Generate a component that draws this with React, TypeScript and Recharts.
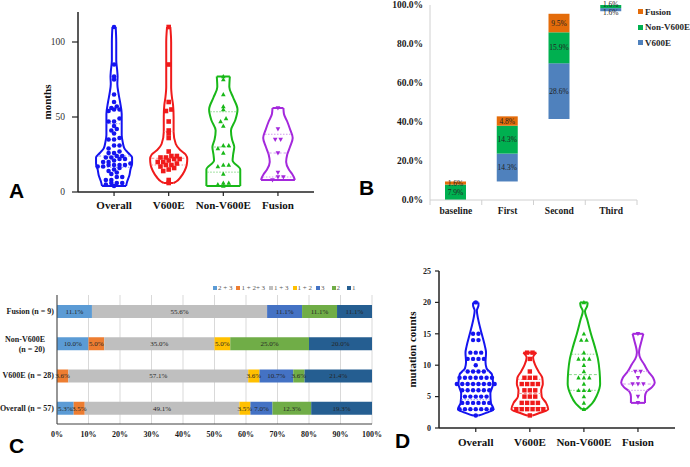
import React from 'react';
import {
  ScatterChart, Scatter, XAxis, YAxis, BarChart, Bar, LabelList, Legend, CartesianGrid,
} from 'recharts';

const SERIF = "'Liberation Serif', 'Times New Roman', serif";
const SANS = "'Liberation Sans', Arial, sans-serif";

// ---- violin groups (panels A and D) ----
const groupNames = ['Overall', 'V600E', 'Non-V600E', 'Fusion'];
const groupColors = ['#1414f0', '#f01b1b', '#18b818', '#a428dc'];
const groupLight = ['#8a8af6', '#f59090', '#86d886', '#d298ee'];

// A: months
const v600eMonths = [110, 85, 60, 55, 54, 47, 41, 39, 36, 27, 24, 24, 23, 23, 22, 22, 21, 20, 20, 19, 18, 18, 17, 16, 15, 14, 8, 6];
const nonV600eMonths = [77, 75, 65, 57, 55, 49, 47, 44, 31, 31, 29, 26, 18, 18, 17, 12, 6, 6, 5, 4];
const fusionMonths = [56, 42, 35, 35, 26, 13, 10, 10, 8];
const overallMonths = [...v600eMonths, ...nonV600eMonths, ...fusionMonths];

// violin outlines: [value, half width in category units]
const overallMonthsShape = [[110, 0.03], [100, 0.04], [88, 0.04], [80, 0.06], [77, 0.065], [72, 0.06], [66, 0.08], [60, 0.11], [52, 0.14], [45, 0.14], [38, 0.14], [33, 0.16], [29, 0.19], [26, 0.26], [23, 0.33], [19, 0.33], [15, 0.3], [11, 0.28], [7, 0.24], [4, 0.22]];
const v600eMonthsShape = [[110, 0.03], [100, 0.045], [85, 0.045], [70, 0.045], [63, 0.06], [58, 0.08], [50, 0.09], [40, 0.09], [32, 0.13], [28, 0.21], [25, 0.31], [22, 0.34], [18, 0.33], [14, 0.29], [10, 0.22], [7, 0.14], [6, 0.09]];
const nonV600eMonthsShape = [[77, 0.12], [70, 0.11], [63, 0.18], [55, 0.26], [48, 0.22], [41, 0.14], [35, 0.16], [30, 0.2], [25, 0.18], [21, 0.17], [15, 0.31], [10, 0.31], [4, 0.31]];
const fusionMonthsShape = [[56, 0.1], [52, 0.11], [47, 0.17], [42, 0.22], [36, 0.27], [30, 0.22], [25, 0.17], [20, 0.15], [15, 0.2], [12, 0.26], [10, 0.29], [8, 0.31]];

// D: mutation counts
const v600eCounts = [12, 12, 11, 9, 8, 8, 8, 7, 7, 7, 7, 6, 6, 6, 5, 5, 5, 4, 4, 4, 4, 3, 3, 3, 3, 3, 3, 2];
const nonV600eCounts = [20, 15, 14, 14, 12, 11, 11, 11, 10, 9, 8, 8, 8, 7, 6, 6, 6, 5, 4, 3];
const fusionCounts = [15, 9, 9, 8, 7, 7, 7, 5, 4];
const overallCounts = [...v600eCounts, ...nonV600eCounts, ...fusionCounts];

const overallCountsShape = [[20, 0.05], [19.5, 0.05], [18.7, 0.02], [17.5, 0.04], [16, 0.08], [15, 0.11], [13, 0.17], [12, 0.19], [10.5, 0.18], [9.5, 0.2], [8.5, 0.3], [7, 0.32], [5.5, 0.27], [4, 0.28], [3, 0.33], [2.5, 0.22], [2, 0.05]];
const v600eCountsShape = [[12, 0.12], [11.2, 0.06], [10, 0.1], [9, 0.16], [8, 0.23], [7, 0.24], [6, 0.21], [5, 0.22], [4, 0.3], [3, 0.34], [2.5, 0.22], [2, 0.05]];
const nonV600eCountsShape = [[20, 0.07], [19.4, 0.06], [18.6, 0.02], [17.3, 0.06], [15, 0.13], [13, 0.2], [11, 0.26], [9, 0.29], [7, 0.3], [5.2, 0.24], [4, 0.16], [3, 0.04]];
const fusionCountsShape = [[15, 0.1], [14, 0.07], [12, 0.02], [11, 0.05], [10.2, 0.11], [9, 0.19], [8, 0.28], [7.2, 0.31], [6.5, 0.26], [5.8, 0.16], [5, 0.13], [4, 0.13]];

// ---- B: cumulative detection by round ----
const stages = ['baseline', 'First', 'Second', 'Third'];
const stageStart = [0, 9.5, 41.5, 96.8];
const stageV600E = [0, 14.3, 28.6, 1.6];
const stageNonV600E = [7.9, 14.3, 15.9, 1.6];
const stageFusion = [1.6, 4.8, 9.5, 0];
const stageSeries = ['V600E', 'Non-V600E', 'Fusion'];
const stageColors = ['#4f81bd', '#00b050', '#e46c0a'];

// ---- C: patterns ----
const cohorts = ['Fusion (n = 9)', 'Non-V600E\n(n = 20)', 'V600E (n = 28)', 'Overall  (n = 57)'];
const patternNames = ['2 + 3', '1 + 2+ 3', '1 + 3', '1 + 2', '3', '2', '1'];
const patternColors = ['#5b9bd5', '#ed7d31', '#bfbfbf', '#ffc000', '#4472c4', '#70ad47', '#255e91'];
const pattern23 = [11.1, 10.0, 0, 5.3];
const pattern123 = [0, 5.0, 3.6, 3.5];
const pattern13 = [55.6, 35.0, 57.1, 49.1];
const pattern12 = [0, 5.0, 3.6, 3.5];
const pattern3 = [11.1, 0, 10.7, 7.0];
const pattern2 = [11.1, 25.0, 3.6, 12.3];
const pattern1 = [11.1, 20.0, 21.4, 19.3];
const patternValues = [pattern23, pattern123, pattern13, pattern12, pattern3, pattern2, pattern1];

type Pt = { x: number; y: number };

function swarm(values: number[], center: number, bin: number, step: number): Pt[] {
  const rows = new Map<number, number[]>();
  values.forEach((v) => {
    const k = Math.round(v / bin);
    rows.set(k, [...(rows.get(k) || []), v]);
  });
  const pts: Pt[] = [];
  rows.forEach((vals) => {
    vals.sort((a, b) => a - b);
    vals.forEach((v, i) => pts.push({ x: center + (i - (vals.length - 1) / 2) * step, y: v }));
  });
  return pts;
}

function quantile(values: number[], p: number) {
  const s = [...values].sort((a, b) => a - b);
  const pos = (s.length + 1) * p;
  const lo = Math.floor(pos);
  if (lo < 1) return s[0];
  if (lo >= s.length) return s[s.length - 1];
  return s[lo - 1] + (pos - lo) * (s[lo] - s[lo - 1]);
}

function widthAt(shape: number[][], v: number) {
  for (let i = 0; i < shape.length - 1; i++) {
    const [v0, h0] = shape[i];
    const [v1, h1] = shape[i + 1];
    if (v <= v0 && v >= v1) return h0 + ((v - v0) / (v1 - v0)) * (h1 - h0);
  }
  return v > shape[0][0] ? shape[0][1] : shape[shape.length - 1][1];
}

const noDot = () => <g />;

function marker(idx: number, size: number) {
  const color = groupColors[idx];
  const r = size / 2;
  return (p: any) => {
    const { cx, cy } = p;
    if (idx === 0) return <circle cx={cx} cy={cy} r={r} fill={color} />;
    if (idx === 1) return <rect x={cx - r} y={cy - r} width={size} height={size} fill={color} />;
    if (idx === 2) return <polygon points={`${cx},${cy - r * 1.1} ${cx - r},${cy + r * 0.8} ${cx + r},${cy + r * 0.8}`} fill={color} />;
    return <polygon points={`${cx - r},${cy - r * 0.8} ${cx + r},${cy - r * 0.8} ${cx},${cy + r * 1.1}`} fill={color} />;
  };
}

function violinParts(key: string, idx: number, values: number[], shape: number[][], bin: number, dot: number) {
  const c = idx + 1;
  const color = groupColors[idx];
  const asc = [...shape].reverse();
  const left = asc.map(([v, h]) => ({ x: c - h, y: v }));
  const right = asc.map(([v, h]) => ({ x: c + h, y: v }));
  const [tv, th] = shape[0];
  const [bv, bh] = shape[shape.length - 1];
  const outline = { stroke: color, strokeWidth: 2 };
  const parts = [
    <Scatter key={`${key}-l`} data={left} line={outline} lineJointType="monotoneY" shape={noDot} isAnimationActive={false} />,
    <Scatter key={`${key}-r`} data={right} line={outline} lineJointType="monotoneY" shape={noDot} isAnimationActive={false} />,
    <Scatter key={`${key}-t`} data={[{ x: c - th, y: tv }, { x: c + th, y: tv }]} line={outline} shape={noDot} isAnimationActive={false} />,
    <Scatter key={`${key}-b`} data={[{ x: c - bh, y: bv }, { x: c + bh, y: bv }]} line={outline} shape={noDot} isAnimationActive={false} />,
  ];
  [0.25, 0.5, 0.75].forEach((p) => {
    const q = quantile(values, p);
    const h = widthAt(shape, q) * 0.95;
    parts.push(
      <Scatter key={`${key}-q${p}`} data={[{ x: c - h, y: q }, { x: c + h, y: q }]}
        line={{ stroke: groupLight[idx], strokeWidth: 1, strokeDasharray: p === 0.5 ? '3 2' : '1.5 1.5' }}
        shape={noDot} isAnimationActive={false} />,
    );
  });
  parts.push(
    <Scatter key={`${key}-d`} data={swarm(values, c, bin, 0.1)} shape={marker(idx, dot)} isAnimationActive={false} />,
  );
  return parts;
}

type ViolinProps = {
  left: number; top: number; width: number; height: number;
  margin: { top: number; right: number; bottom: number; left: number };
  yWidth: number; yDomain: number[]; yTicks: number[]; yLabel: string;
  xDomain: number[]; sets: number[][]; shapes: number[][][]; bin: number; dot: number;
  yTick: any; yTickSize: number; yTickMargin: number; xTickMargin: number;
};

function ViolinPanel(p: ViolinProps) {
  return (
    <div style={{ position: 'absolute', left: p.left, top: p.top }}>
      <ScatterChart width={p.width} height={p.height} margin={p.margin}>
        <XAxis type="number" dataKey="x" domain={p.xDomain} allowDataOverflow ticks={[1, 2, 3, 4]} interval={0}
          tickFormatter={(v: number) => groupNames[v - 1]} height={30} tickSize={4} tickMargin={p.xTickMargin}
          axisLine={{ stroke: '#222', strokeWidth: 1.5 }} tickLine={{ stroke: '#222', strokeWidth: 1.2 }}
          tick={{ fill: '#111', fontSize: 11, fontWeight: 'bold', fontFamily: SERIF }} />
        <YAxis type="number" dataKey="y" domain={p.yDomain} allowDataOverflow ticks={p.yTicks} interval={0}
          width={p.yWidth} tickSize={p.yTickSize} tickMargin={p.yTickMargin}
          axisLine={{ stroke: '#222', strokeWidth: 1.5 }} tickLine={{ stroke: '#222', strokeWidth: 1.2 }}
          tick={p.yTick}
          label={{ value: p.yLabel, angle: -90, position: 'center', fill: '#111', fontSize: 11, fontWeight: 'bold', fontFamily: SERIF }} />
        {p.sets.flatMap((vals, i) => violinParts(`${p.yLabel}-${i}`, i, vals, p.shapes[i], p.bin, p.dot))}
      </ScatterChart>
    </div>
  );
}

function StageTick(props: any) {
  const { x, y, payload, index } = props;
  const half = payload && payload.offset ? payload.offset : 25.9;
  return (
    <g>
      <line x1={x - half} x2={x - half} y1={y - 7} y2={y - 2} stroke="#d0d0d0" />
      {index === stages.length - 1 && <line x1={x + half} x2={x + half} y1={y - 7} y2={y - 2} stroke="#d0d0d0" />}
      <text x={x} y={y} dy="0.71em" textAnchor="middle" fill="#1a1a1a" fontSize={9.5} fontWeight="bold" fontFamily={SERIF}>
        {payload.value}
      </text>
    </g>
  );
}

function CohortTick(props: any) {
  const { x, y, payload } = props;
  const lines = String(payload.value).split('\n');
  const style = { fill: '#1a1a1a', fontSize: 8, fontWeight: 'bold' as const, fontFamily: SERIF };
  if (lines.length === 1) {
    return <text x={x} y={y} dy="0.35em" textAnchor="end" {...style}>{lines[0]}</text>;
  }
  return (
    <text textAnchor="end" {...style}>
      <tspan x={x - 9} y={y - 4.5} dy="0.35em">{lines[0]}</tspan>
      <tspan x={x - 9} y={y + 5.5} dy="0.35em">{lines[1]}</tspan>
    </text>
  );
}

const pct1 = (v: any) => (Number(v) ? `${Number(v).toFixed(1)}%` : '');

// segment label for panel B; thin segments push their label up or down so the two do not collide
function stageLabel(shift: number) {
  return (p: any) => {
    const { x, y, width, height, value } = p;
    const txt = pct1(value);
    if (!txt) return null;
    const dy = Math.abs(height) < 8 ? shift : 0;
    return (
      <text x={x + width / 2} y={y + height / 2 + dy} dy="0.35em" textAnchor="middle" fill="#222" fontSize={7.5} fontFamily={SERIF}>
        {txt}
      </text>
    );
  };
}
const stageShift = [3, -2.5, 0];

const letter = (ch: string, left: number, top: number) => (
  <div style={{ position: 'absolute', left, top, fontFamily: SANS, fontWeight: 'bold', fontSize: 21, lineHeight: '21px', color: '#000' }}>{ch}</div>
);

export default function App() {
  const stageData = stages.map((s, i) => ({
    stage: s, base: stageStart[i], v600e: stageV600E[i], non: stageNonV600E[i], fusion: stageFusion[i],
  }));
  const stageKeys = ['v600e', 'non', 'fusion'];

  const cohortData = cohorts.map((name, i) => {
    const row: any = { name };
    patternValues.forEach((arr, k) => { row[`p${k}`] = arr[i]; });
    return row;
  });

  return (
    <div style={{ position: 'absolute', left: 0, top: 0, width: 690, height: 467, background: '#fff', overflow: 'hidden' }}>
      <ViolinPanel left={0} top={0} width={330} height={230}
        margin={{ top: 12, right: 16, bottom: 8, left: 16 }} yWidth={62}
        yDomain={[0, 120]} yTicks={[0, 50, 100]} yLabel="months" xDomain={[0.34, 4.66]}
        sets={[overallMonths, v600eMonths, nonV600eMonths, fusionMonths]}
        shapes={[overallMonthsShape, v600eMonthsShape, nonV600eMonthsShape, fusionMonthsShape]}
        bin={3} dot={4.6} yTickSize={6} yTickMargin={7} xTickMargin={5}
        yTick={{ fill: '#333', fontSize: 9.5, fontFamily: SERIF }} />

      <div style={{ position: 'absolute', left: 345, top: 0 }}>
        <BarChart width={345} height={230} data={stageData} margin={{ top: 5, right: 53, bottom: 0, left: 0 }} barSize={21}>
          <XAxis dataKey="stage" height={30} interval={0} axisLine={{ stroke: '#d0d0d0' }} tickLine={false}
            tickSize={0} tickMargin={7} tick={<StageTick />} />
          <YAxis width={85} domain={[0, 100]} ticks={[0, 20, 40, 60, 80, 100]} interval={0}
            tickFormatter={(v: number) => `${v.toFixed(1)}%`} axisLine={{ stroke: '#d0d0d0' }} tickLine={false}
            tickSize={0} tickMargin={7} tick={{ fill: '#1a1a1a', fontSize: 9.5, fontWeight: 'bold', fontFamily: SERIF }} />
          <Legend layout="vertical" align="center" verticalAlign="middle"
            wrapperStyle={{ position: 'absolute', left: 293, top: 4, width: 60 }}
            content={() => (
              <div style={{ fontFamily: SERIF, fontWeight: 'bold', fontSize: 9, color: '#262626' }}>
                {[...stageSeries].reverse().map((name, i) => (
                  <div key={name} style={{ display: 'flex', alignItems: 'center', height: 15.5, whiteSpace: 'nowrap' }}>
                    <span style={{ width: 5, height: 5, background: [...stageColors].reverse()[i], marginRight: 2 }} />
                    {name}
                  </div>
                ))}
              </div>
            )} />
          <Bar dataKey="base" stackId="s" fill="transparent" isAnimationActive={false} />
          {stageKeys.map((k, i) => (
            <Bar key={k} dataKey={k} stackId="s" fill={stageColors[i]} isAnimationActive={false}>
              <LabelList dataKey={k} content={stageLabel(stageShift[i])} />
            </Bar>
          ))}
        </BarChart>
      </div>

      <div style={{ position: 'absolute', left: 0, top: 240 }}>
        <BarChart layout="vertical" width={390} height={215} data={cohortData}
          margin={{ top: 55, right: 18, bottom: 6, left: 0 }} barSize={13}>
          <CartesianGrid horizontal={false} stroke="#d9d9d9" />
          <XAxis type="number" domain={[0, 100]} ticks={[0, 10, 20, 30, 40, 50, 60, 70, 80, 90, 100]} interval={0}
            tickFormatter={(v: number) => `${v}%`} height={25} tickLine={false} tickSize={0} tickMargin={7}
            axisLine={{ stroke: '#404040' }} tick={{ fill: '#1a1a1a', fontSize: 8, fontWeight: 'bold', fontFamily: SERIF }} />
          <YAxis type="category" dataKey="name" width={57} interval={0} tickLine={false} tickSize={0} tickMargin={3}
            axisLine={{ stroke: '#404040' }} tick={<CohortTick />} />
          <Legend layout="vertical" align="center" verticalAlign="middle"
            wrapperStyle={{ position: 'absolute', left: 213, top: 43, width: 160 }}
            content={() => (
              <div style={{ display: 'flex', fontFamily: SERIF, fontSize: 7, color: '#595959', whiteSpace: 'nowrap', height: 10, alignItems: 'center' }}>
                {patternNames.map((name, i) => (
                  <span key={name} style={{ display: 'flex', alignItems: 'center', marginRight: i < 4 ? 4 : 7 }}>
                    <span style={{ width: 4, height: 4, background: patternColors[i], marginRight: 1 }} />
                    {name}
                  </span>
                ))}
              </div>
            )} />
          {patternNames.map((name, k) => (
            <Bar key={name} dataKey={`p${k}`} stackId="c" fill={patternColors[k]} isAnimationActive={false}>
              <LabelList dataKey={`p${k}`} position="center" formatter={pct1} fill="#262626" stroke="none" fontSize={7} fontFamily={SERIF} />
            </Bar>
          ))}
        </BarChart>
      </div>

      <ViolinPanel left={385} top={255} width={305} height={212}
        margin={{ top: 16, right: 15, bottom: 9, left: 0 }} yWidth={54}
        yDomain={[0, 25]} yTicks={[0, 5, 10, 15, 20, 25]} yLabel="mutation counts" xDomain={[0.32, 4.685]}
        sets={[overallCounts, v600eCounts, nonV600eCounts, fusionCounts]}
        shapes={[overallCountsShape, v600eCountsShape, nonV600eCountsShape, fusionCountsShape]}
        bin={1} dot={4.4} yTickSize={4} yTickMargin={4} xTickMargin={6}
        yTick={{ fill: '#222', fontSize: 8, fontWeight: 'bold', fontFamily: SERIF }} />

      {letter('A', 9, 180)}
      {letter('B', 359, 177)}
      {letter('C', 9, 435)}
      {letter('D', 395, 430)}
    </div>
  );
}
